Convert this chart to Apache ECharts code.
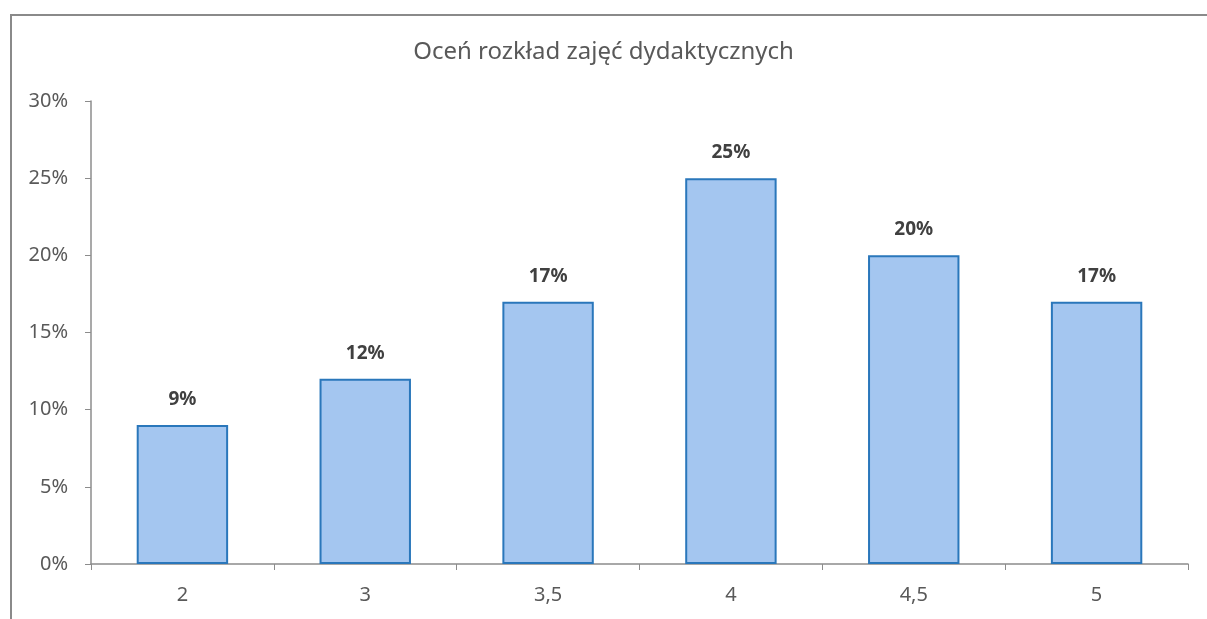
<!DOCTYPE html>
<html>
<head>
<meta charset="UTF-8">
<title>Oceń rozkład zajęć dydaktycznych</title>
<script src="https://cdn.jsdelivr.net/npm/echarts@6/dist/echarts.min.js"></script>
<style>
  html, body { margin: 0; padding: 0; background: #fff; overflow: hidden; }
  #frame { position: absolute; left: 10px; top: 14px; width: 1300px; height: 700px;
           border-left: 2px solid #8a8a8a; border-top: 2px solid #8a8a8a; }
  #chart { position: absolute; left: 0; top: 0; width: 1207px; height: 619px; }
</style>
</head>
<body>
<div id="frame"></div>
<div id="chart"></div>
<script>
// dane wykresu
var oceny = ['2', '3', '3,5', '4', '4,5', '5'];
var procenty = [9, 12, 17, 25, 20, 17];
var tytul = 'Oceń rozkład zajęć dydaktycznych';

var myChart = echarts.init(document.getElementById('chart'));
var font = '"Noto Sans", "Open Sans", sans-serif';

var option = {
  animation: false,
  title: {
    text: tytul,
    left: 'center',
    top: 35,
    textStyle: { fontFamily: font, fontSize: 24, fontWeight: 'normal', color: '#595959' }
  },
  grid: { left: 91, right: 19, top: 101, bottom: 55 },
  xAxis: {
    type: 'category',
    data: oceny,
    axisLine: { lineStyle: { color: '#8c8c8c', width: 1.5 } },
    axisTick: { show: true, alignWithLabel: false, length: 6, lineStyle: { color: '#8c8c8c' } },
    axisLabel: { fontFamily: font, fontSize: 20, color: '#595959', margin: 21 }
  },
  yAxis: {
    type: 'value',
    min: 0, max: 30, interval: 5,
    axisLine: { show: true, lineStyle: { color: '#8c8c8c', width: 1.5 } },
    axisTick: { show: true, length: 6, lineStyle: { color: '#8c8c8c' } },
    splitLine: { show: false },
    axisLabel: { fontFamily: font, fontSize: 20, color: '#595959', margin: 23, formatter: '{value}%' }
  },
  series: [{
    type: 'bar',
    data: procenty,
    barWidth: '50%',
    itemStyle: { color: '#a4c6f0', borderColor: '#2a77bb', borderWidth: 2 },
    label: {
      show: true, position: 'top', distance: 16,
      formatter: '{c}%',
      fontFamily: font, fontSize: 19, fontWeight: 'bold', color: '#404040'
    }
  }]
};

myChart.setOption(option);
</script>
</body>
</html>
